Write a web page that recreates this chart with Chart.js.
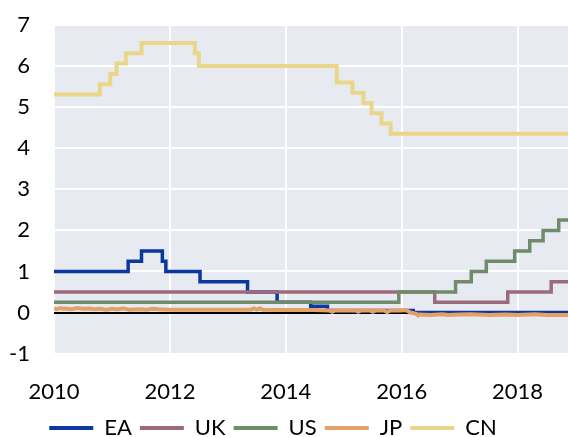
<!DOCTYPE html>
<html><head><meta charset="utf-8">
<script src="https://cdn.jsdelivr.net/npm/chart.js@4"></script>
<style>html,body{margin:0;padding:0;background:#fff}#wrap{width:568px;height:437px}</style>
</head><body><div id="wrap"><canvas id="c"></canvas></div>
<script>
const seriesNames = ['EA','UK','US','JP','CN'];
const xTickLabels = [2010, 2012, 2014, 2016, 2018];
const yTickLabels = [-1, 0, 1, 2, 3, 4, 5, 6, 7];

const eaDates = [2010.0, 2011.28, 2011.51, 2011.87, 2011.93, 2012.52, 2013.34, 2013.85, 2014.43, 2014.72, 2016.2, 2018.87];
const eaRates = [1.0, 1.25, 1.5, 1.25, 1.0, 0.75, 0.5, 0.25, 0.15, 0.05, 0.0, 0.0];

const ukDates = [2010.0, 2016.57, 2017.83, 2018.58, 2018.87];
const ukRates = [0.5, 0.25, 0.5, 0.75, 0.75];

const usDates = [2010.0, 2015.95, 2016.93, 2017.2, 2017.46, 2017.95, 2018.21, 2018.44, 2018.71, 2018.87];
const usRates = [0.25, 0.5, 0.75, 1.0, 1.25, 1.5, 1.75, 2.0, 2.25, 2.25];

const jpDates = [2010.0, 2010.05, 2010.1, 2010.15, 2010.2, 2010.3, 2010.4, 2010.5, 2010.6, 2010.7, 2010.8, 2010.9, 2011.0, 2011.1, 2011.2, 2011.3, 2011.5, 2011.6, 2011.7, 2011.8, 2012.0, 2012.5, 2013.0, 2013.4, 2013.45, 2013.5, 2013.55, 2013.6, 2014.0, 2014.5, 2014.75, 2014.8, 2014.85, 2015.0, 2015.2, 2015.25, 2015.3, 2015.45, 2015.5, 2015.55, 2015.7, 2015.75, 2015.8, 2016.0, 2016.05, 2016.1, 2016.15, 2016.25, 2016.28, 2016.3, 2016.5, 2016.7, 2016.8, 2017.0, 2017.2, 2017.5, 2017.8, 2018.0, 2018.3, 2018.5, 2018.87];
const jpRates = [0.10, 0.08, 0.11, 0.09, 0.10, 0.08, 0.11, 0.09, 0.10, 0.08, 0.09, 0.07, 0.09, 0.08, 0.10, 0.07, 0.08, 0.07, 0.09, 0.08, 0.07, 0.07, 0.07, 0.07, 0.10, 0.07, 0.10, 0.07, 0.06, 0.06, 0.05, 0.02, 0.05, 0.05, 0.05, 0.02, 0.05, 0.05, 0.02, 0.05, 0.05, 0.01, 0.05, 0.05, 0.06, 0.04, 0.0, -0.03, -0.07, -0.05, -0.06, -0.04, -0.06, -0.05, -0.04, -0.06, -0.05, -0.06, -0.04, -0.06, -0.06];

const cnDates = [2010.0, 2010.79, 2010.97, 2011.08, 2011.24, 2011.51, 2012.43, 2012.5, 2014.88, 2015.15, 2015.34, 2015.48, 2015.65, 2015.81, 2018.87];
const cnRates = [5.31, 5.56, 5.81, 6.06, 6.31, 6.56, 6.31, 6.0, 5.6, 5.35, 5.1, 4.85, 4.6, 4.35, 4.35];

const colors = ['#0a389e', '#9c6b7b', '#6f8b6c', '#e5a066', '#ead689'];
const pts = (xs, ys) => xs.map((x, i) => ({x, y: ys[i]}));

const bgPlugin = {
  id: 'plotBg',
  beforeDraw(chart) {
    const a = chart.chartArea, ctx = chart.ctx;
    ctx.save(); ctx.fillStyle = '#e7eaf1';
    ctx.fillRect(a.left, a.top, a.right - a.left, a.bottom - a.top);
    ctx.restore();
  }
};
const legendShift = {
  id: 'legendShift',
  afterLayout(chart) { if (chart.legend) chart.legend.right -= 22; }
};

const FONT = {family: 'Lato', size: 22};

new Chart(document.getElementById('c'), {
  type: 'line',
  data: {
    datasets: [
      {label: seriesNames[0], data: pts(eaDates, eaRates), stepped: true, borderColor: colors[0], borderWidth: 3.5, order: 5},
      {label: seriesNames[1], data: pts(ukDates, ukRates), stepped: true, borderColor: colors[1], borderWidth: 3.5, order: 4},
      {label: seriesNames[2], data: pts(usDates, usRates), stepped: true, borderColor: colors[2], borderWidth: 3.5, order: 3},
      {label: seriesNames[3], data: pts(jpDates, jpRates), borderColor: colors[3], borderWidth: 4, order: 2},
      {label: seriesNames[4], data: pts(cnDates, cnRates), stepped: true, borderColor: colors[4], borderWidth: 4, order: 1}
    ]
  },
  options: {
    responsive: true, maintainAspectRatio: false, animation: false,
    elements: {point: {radius: 0}, line: {tension: 0}},
    layout: {padding: {top: 25, right: 0, left: 0, bottom: -12}},
    scales: {
      x: {
        type: 'linear', min: 2010, max: 2018.87,
        afterBuildTicks: s => { s.ticks = xTickLabels.map(v => ({value: v})); },
        grid: {color: '#ffffff', lineWidth: 2, drawTicks: true, tickLength: 21, tickColor: 'rgba(0,0,0,0)'},
        border: {display: false},
        ticks: {font: FONT, color: '#000', padding: 4, maxRotation: 0, callback: v => String(v)}
      },
      y: {
        min: -1, max: 7,
        afterBuildTicks: s => { s.ticks = yTickLabels.map(v => ({value: v})); },
        afterFit: s => { s.width = 54; },
        grid: {color: c => c.tick && c.tick.value === 0 ? '#000000' : '#ffffff', lineWidth: 2, drawTicks: true, tickLength: 20, tickColor: 'rgba(0,0,0,0)'},
        border: {display: false},
        ticks: {font: FONT, color: '#000', padding: 4}
      }
    },
    plugins: {
      legend: {
        position: 'bottom',
        labels: {
          font: FONT, color: '#000', boxWidth: 44, boxHeight: 4, padding: 8,
          generateLabels: chart => chart.data.datasets.map((d, i) => ({
            text: d.label, fillStyle: d.borderColor, strokeStyle: d.borderColor,
            lineWidth: 0, datasetIndex: i, hidden: false, fontColor: '#000'
          }))
        }
      },
      tooltip: {enabled: false}
    }
  },
  plugins: [bgPlugin, legendShift]
});
</script></body></html>
